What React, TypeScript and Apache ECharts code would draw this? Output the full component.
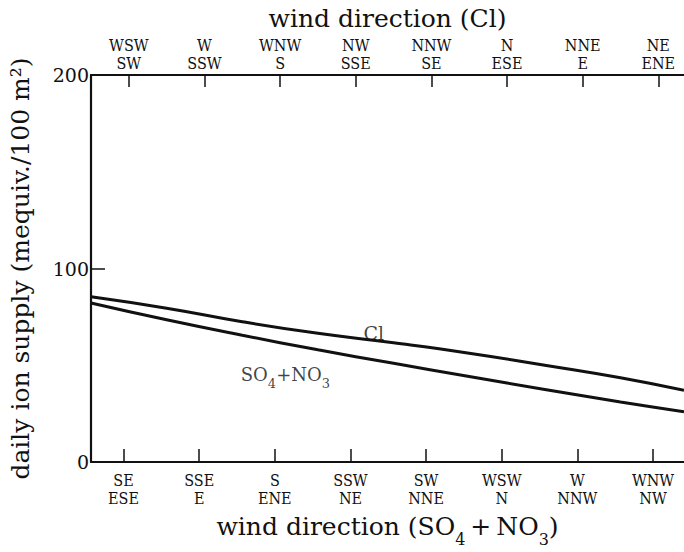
import React, { useEffect, useRef } from "react";
import * as echarts from "echarts";

// x positions are in "tick spacing" units from the left axis
const topTickPos = [0.5, 1.5, 2.5, 3.5, 4.5, 5.5, 6.5, 7.5];
const topLabels = [
  "WSW\nSW", "W\nSSW", "WNW\nS", "NW\nSSE", "NNW\nSE", "N\nESE", "NNE\nE", "NE\nENE",
];
const bottomTickPos = [0.43, 1.43, 2.43, 3.43, 4.43, 5.43, 6.43, 7.43];
const bottomLabels = [
  "SE\nESE", "SSE\nE", "S\nENE", "SSW\nNE", "SW\nNNE", "WSW\nN", "W\nNNW", "WNW\nNW",
];
const yTicks = [0, 100, 200];

const xs = [0, 1, 2, 3, 4, 5, 6, 7, 7.84];
const clValues = [85.4, 79.5, 72.5, 66.5, 61.6, 56.2, 50, 43.5, 37];
const so4Values = [82.2, 73.5, 65.5, 58, 51, 44.2, 37.5, 31, 26];

const clLabelPos = [3.74, 66.5];
const so4LabelPos = [2.57, 43.5];

const TICKF = "DejaVu Serif Condensed";
const TITLE = "DejaVu Serif";

export default function App() {
  const ref = useRef<HTMLDivElement>(null);
  useEffect(() => {
    if (!ref.current) return;
    const chart = echarts.init(ref.current, null, { renderer: "svg" });
    const findLabel = (pos: number[], labels: string[], v: number) => {
      let best = 0;
      let bd = Infinity;
      pos.forEach((p, i) => {
        const d = Math.abs(p - v);
        if (d < bd) { bd = d; best = i; }
      });
      return labels[best];
    };
    const axisCommon = {
      type: "value" as const,
      min: 0,
      max: 7.84,
      splitLine: { show: false },
      axisLine: { show: true, onZero: false, lineStyle: { color: "#111", width: 2.2 } },
    };
    const nameRich = {
      n: { fontFamily: TITLE, fontSize: 25, color: "#111", lineHeight: 33, verticalAlign: "top" as const },
      p: { fontFamily: TITLE, fontSize: 25, color: "#111", lineHeight: 33, verticalAlign: "top" as const, padding: [0, 5, 0, 5] },
      s: { fontFamily: TITLE, fontSize: 16, color: "#111", lineHeight: 16, verticalAlign: "bottom" as const },
    };
    chart.setOption({
      animation: false,
      backgroundColor: "#fff",
      grid: { left: 88, right: 0, top: 75, bottom: 80, containLabel: false },
      xAxis: [
        {
          ...axisCommon,
          position: "bottom",
          name: "{n|wind direction (SO}{s|4}{p|+}{n|NO}{s|3}{n|)}",
          nameLocation: "middle",
          nameGap: 52,
          nameTextStyle: { rich: nameRich },
          axisTick: {
            show: true, inside: true, length: 13, customValues: bottomTickPos,
            lineStyle: { color: "#111", width: 1.5 },
          },
          axisLabel: {
            customValues: bottomTickPos,
            formatter: (v: number) => findLabel(bottomTickPos, bottomLabels, v),
            fontFamily: TICKF, fontSize: 16, color: "#111", lineHeight: 18, margin: 9,
          },
        },
        {
          ...axisCommon,
          position: "top",
          name: "wind direction (Cl)",
          nameLocation: "middle",
          nameGap: 43,
          nameTextStyle: { fontFamily: TITLE, fontSize: 25, color: "#111" },
          axisTick: {
            show: true, inside: true, length: 12, customValues: topTickPos,
            lineStyle: { color: "#111", width: 1.5 },
          },
          axisLabel: {
            customValues: topTickPos,
            formatter: (v: number) => findLabel(topTickPos, topLabels, v),
            fontFamily: TICKF, fontSize: 16, color: "#111", lineHeight: 18, margin: 3,
          },
        },
      ],
      yAxis: {
        type: "value",
        min: 0,
        max: 200,
        interval: 100,
        splitLine: { show: false },
        name: "daily ion supply (mequiv./100 m²)",
        nameLocation: "middle",
        nameGap: 58,
        nameTextStyle: { fontFamily: TITLE, fontSize: 25, color: "#111" },
        axisLine: { show: true, onZero: false, lineStyle: { color: "#111", width: 2.2 } },
        axisTick: {
          show: true, inside: true, length: 14, customValues: [100],
          lineStyle: { color: "#111", width: 1.5 },
        },
        axisLabel: {
          customValues: yTicks,
          fontFamily: TITLE, fontSize: 19, color: "#111", margin: 2,
        },
      },
      series: [
        {
          type: "line",
          xAxisIndex: 0,
          data: xs.map((x, i) => [x, clValues[i]]),
          smooth: true,
          showSymbol: false,
          lineStyle: { color: "#111", width: 3 },
        },
        {
          type: "line",
          xAxisIndex: 0,
          data: xs.map((x, i) => [x, so4Values[i]]),
          smooth: true,
          showSymbol: false,
          lineStyle: { color: "#111", width: 3 },
        },
        {
          type: "scatter",
          xAxisIndex: 0,
          symbolSize: 0,
          silent: true,
          data: [
            { value: clLabelPos, label: { formatter: "Cl" } },
            { value: so4LabelPos, label: { formatter: "{n|SO}{s|4}{n|+NO}{s|3}" } },
          ],
          label: {
            show: true,
            position: "inside",
            fontFamily: TITLE,
            fontSize: 19,
            color: "#111",
            rich: {
              n: { fontFamily: TITLE, fontSize: 18, color: "#111", lineHeight: 24, verticalAlign: "top" },
              s: { fontFamily: TITLE, fontSize: 13, color: "#111", lineHeight: 13, verticalAlign: "bottom" },
            },
          },
        },
      ],
    });
    return () => chart.dispose();
  }, []);
  return (
    <div
      ref={ref}
      style={{ position: "fixed", left: 0, top: 0, width: 684, height: 552 }}
    />
  );
}
